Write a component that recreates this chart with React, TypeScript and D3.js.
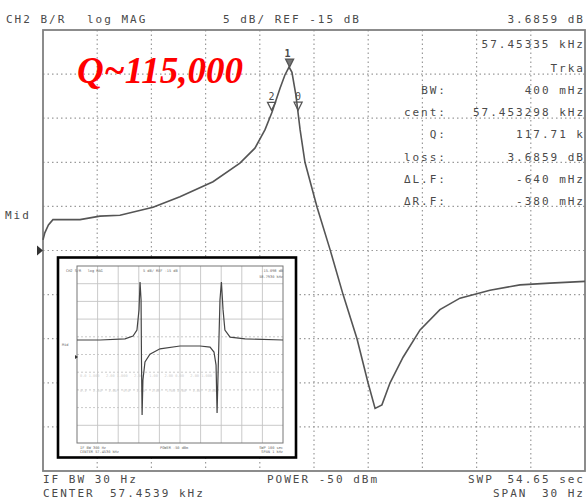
import React from 'react';
import { scaleLinear, line, range } from 'd3';

// main trace: offset from 57.4539 kHz (Hz) and level (dB)
const freqOffset = [-15, -14.9, -14.7, -14.45, -12.95, -11.85, -10.74, -8.91, -7.42, -5.59, -4.1, -3.27, -2.71, -2.32, -1.88, -1.61, -1.38, -1.22, -1.0, -0.77, -0.5, 0.17, 0.89, 1.61, 2.38, 2.99, 3.38, 3.76, 4.21, 4.93, 5.87, 6.97, 8.08, 9.74, 11.4, 13.06, 15];
const level = [-13.8, -13.0, -12.1, -11.5, -11.5, -11.1, -11.0, -10.1, -8.9, -7.2, -5.1, -3.4, -1.3, 0.7, 3.4, 4.9, 5.8, 5.2, 2.6, -1.3, -5.0, -10.1, -14.9, -20.0, -25.0, -30.0, -32.9, -32.5, -30.0, -27.1, -24.0, -21.7, -20.4, -19.5, -18.9, -18.7, -18.5];

// inset trace (wide span, two resonances)
const insetFreq = [-500, -388, -267, -228, -209, -199, -194, -189, -187, -184, -180, -170, -146, -97, 0, 97, 146, 165, 175, 180, 184, 194, 201, 209, 218, 243, 316, 500];
const insetLevel = [-10.9, -10.9, -10.6, -9.8, -8.1, -2.4, 5.5, 0.4, -16.6, -32.1, -22.2, -17.1, -14.9, -13.4, -12.6, -12.6, -12.9, -14.3, -18.0, -31.5, -22.2, 0.4, 5.5, -2.4, -8.1, -10.1, -10.6, -10.9];

const markerLabels = ['Trka', 'BW:', 'cent:', 'Q:', 'loss:', 'ΔL.F:', 'ΔR.F:'];
const markerValues = ['', '400 mHz', '57.453298 kHz', '117.71 k', '3.6859 dB', '-640 mHz', '-380 mHz'];
// marker positions (Hz offset) : peak, left, right
const markerFreq = [-1.35, -2.35, -0.88];
const markerNames = ['1', '2', '0'];

const W = 587;
const H = 501;
const plot = { left: 43, right: 585, top: 30, bottom: 471 };
const inset = { left: 77, right: 283, top: 266, bottom: 443 };

const mono = 'DejaVu Sans Mono, monospace';
const textColor = '#4a4a4a';

export default function App() {
  const x = scaleLinear().domain([-15, 15]).range([plot.left, plot.right]);
  const y = scaleLinear().domain([10, -40]).range([plot.top, plot.bottom]);
  const ix = scaleLinear().domain([-500, 500]).range([inset.left, inset.right]);
  const iy = scaleLinear().domain([10, -40]).range([inset.top, inset.bottom]);

  const mainLine = line<number>()
    .x(i => x(freqOffset[i]))
    .y(i => y(level[i]));
  const insetLine = line<number>()
    .x(i => ix(insetFreq[i]))
    .y(i => iy(insetLevel[i]));

  const interpLevel = (f: number) => {
    for (let i = 1; i < freqOffset.length; i++) {
      if (f <= freqOffset[i]) {
        const t = (f - freqOffset[i - 1]) / (freqOffset[i] - freqOffset[i - 1]);
        return level[i - 1] + t * (level[i] - level[i - 1]);
      }
    }
    return level[level.length - 1];
  };

  const txt = (s: string, tx: number, ty: number, anchor: 'start' | 'end' = 'start') => (
    <text x={tx} y={ty} textAnchor={anchor} fontFamily={mono} fontSize={11} letterSpacing={2} fill={textColor}
      style={{ whiteSpace: 'pre' }}>
      {s}
    </text>
  );

  const small = (s: string, tx: number, ty: number, anchor: 'start' | 'end' = 'start', fill = '#666') => (
    <text x={tx} y={ty} textAnchor={anchor} fontFamily={mono} fontSize={3.6} fill={fill} style={{ whiteSpace: 'pre' }}>
      {s}
    </text>
  );

  return (
    <svg width={W} height={H} style={{ position: 'absolute', left: 0, top: 0, background: '#fff' }}>
      {/* main grid */}
      {range(1, 10).map(i => (
        <line key={'v' + i} x1={x(-15 + i * 3)} x2={x(-15 + i * 3)} y1={plot.top} y2={plot.bottom}
          stroke="#9a9a9a" strokeWidth={1.2} strokeDasharray="1.5 3" />
      ))}
      {range(1, 10).map(i => (
        <line key={'h' + i} x1={plot.left} x2={plot.right} y1={y(10 - i * 5)} y2={y(10 - i * 5)}
          stroke="#9a9a9a" strokeWidth={1.2} strokeDasharray="1.5 3" />
      ))}
      <rect x={plot.left} y={plot.top} width={plot.right - plot.left} height={plot.bottom - plot.top}
        fill="none" stroke="#808080" strokeWidth={1.8} />

      {/* trace */}
      <path d={mainLine(range(freqOffset.length)) || ''} fill="none" stroke="#555" strokeWidth={1.6} />

      {/* markers */}
      {markerFreq.map((f, i) => {
        const mx = x(f);
        const my = y(interpLevel(f)) - (i === 0 ? 1 : 3);
        return (
          <g key={'m' + i}>
            <path d={`M${mx - 4},${my - 8} L${mx + 4},${my - 8} L${mx},${my} Z`}
              fill={i === 0 ? '#777' : 'none'} stroke="#555" strokeWidth={1.3} />
            <text x={mx + (i === 0 ? -2 : 0)} y={my - 10} textAnchor="middle" fontFamily={mono} fontSize={10}
              fontWeight={i === 0 ? 'bold' : 'normal'} fill={textColor}>
              {markerNames[i]}
            </text>
          </g>
        );
      })}

      {/* reference arrow */}
      <path d={`M37,${y(-15) - 5} L43,${y(-15)} L37,${y(-15) + 5} Z`} fill="#333" />
      {txt('Mid', 5, 219)}

      {/* header */}
      {txt('CH2 B/R', 6, 23)}
      {txt('log MAG', 87, 23)}
      {txt('5 dB/ REF -15 dB', 223, 23)}
      {txt('3.6859 dB', 585, 23, 'end')}
      {txt('57.45335 kHz', 585, 48, 'end')}
      {markerLabels.map((l, i) => (
        <g key={'ml' + i}>
          {i > 0 && txt(l, 447, 94 + (i - 1) * 22.2, 'end')}
          {i === 0 ? txt(l, 585, 72, 'end') : txt(markerValues[i], 585, 94 + (i - 1) * 22.2, 'end')}
        </g>
      ))}

      {/* footer */}
      {txt('IF BW 30 Hz', 43, 483)}
      {txt('POWER -50 dBm', 267, 483)}
      {txt('SWP', 468, 483)}
      {txt('54.65 sec', 585, 483, 'end')}
      {txt('CENTER', 43, 497)}
      {txt('57.4539 kHz', 110, 497)}
      {txt('SPAN', 493, 497)}
      {txt('30 Hz', 585, 497, 'end')}

      {/* annotation */}
      <text x={77} y={83} fontFamily="Liberation Serif, Times New Roman, serif" fontStyle="italic" fontWeight="bold"
        fontSize={37} fill="#ff0000">
        Q~115,000
      </text>

      {/* inset */}
      <rect x={58} y={257.5} width={238} height={200} fill="#fff" stroke="#000" strokeWidth={2.6} />
      {range(1, 10).map(i => (
        <line key={'iv' + i} x1={ix(-500 + i * 100)} x2={ix(-500 + i * 100)} y1={inset.top} y2={inset.bottom}
          stroke="#c4c4c4" strokeWidth={0.9} />
      ))}
      {range(1, 10).map(i => (
        <line key={'ih' + i} x1={inset.left} x2={inset.right} y1={iy(10 - i * 5)} y2={iy(10 - i * 5)}
          stroke="#c4c4c4" strokeWidth={0.9} strokeDasharray={i >= 4 && i <= 8 ? '2 2' : undefined} />
      ))}
      <rect x={inset.left} y={inset.top} width={inset.right - inset.left} height={inset.bottom - inset.top}
        fill="none" stroke="#777" strokeWidth={1} />
      {small('CH2 S/R   log MAG', 66, 272)}
      {small('5 dB/ REF -15 dB', 143, 272)}
      {small('-15.098 dB', 283, 272, 'end')}
      {small('58.7930 kHz', 283, 278, 'end')}
      {small('Mid', 62, 346)}
      <path d={`M75,355 L78,357 L75,359 Z`} fill="#333" />
      {small('0.0 1.000   2.00 1.000   2.00   1.00   2.00 0.00   2.00 1.000', 80, 377, 'start', '#ccc')}
      {small('0.1   2.00   1.00   0.0   1.00   1.00   1.00 2.00   1.00   1.00', 80, 392, 'start', '#ccc')}
      {small('IF BW 300 Hz', 80, 449)}
      {small('CENTER 57.4530 kHz', 80, 453)}
      {small('POWER -50 dBm', 160, 449)}
      {small('SWP 100 sec', 283, 449, 'end')}
      {small('SPAN 1 kHz', 283, 453, 'end')}
      <path d={insetLine(range(insetFreq.length)) || ''} fill="none" stroke="#444" strokeWidth={1.2} />
    </svg>
  );
}
